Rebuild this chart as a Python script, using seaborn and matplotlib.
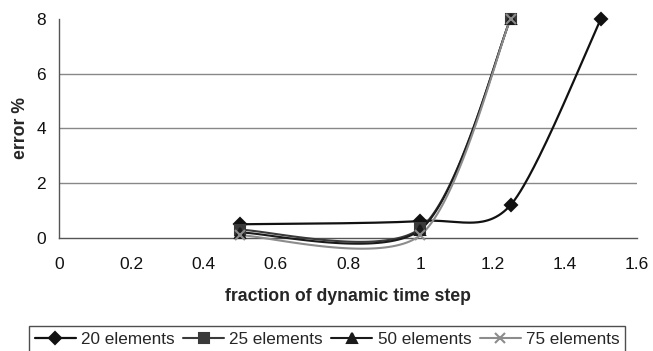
import numpy as np
import matplotlib
matplotlib.use("Agg")
import matplotlib.pyplot as plt
import seaborn as sns
import pandas as pd

# ---- data ----
x_20 = [0.5, 1.0, 1.25, 1.5]
y_20 = [0.5, 0.62, 1.2, 8.0]
x_25 = [0.5, 1.0, 1.25]
y_25 = [0.3, 0.35, 8.0]
x_50 = [0.5, 1.0, 1.25]
y_50 = [0.2, 0.3, 8.0]
x_75 = [0.5, 1.0, 1.25]
y_75 = [0.1, 0.1, 8.0]
series_names = ["20 elements", "25 elements", "50 elements", "75 elements"]
x_ticks = [0, 0.2, 0.4, 0.6, 0.8, 1.0, 1.2, 1.4, 1.6]
x_tick_labels = ["0", "0.2", "0.4", "0.6", "0.8", "1", "1.2", "1.4", "1.6"]
y_ticks = [0, 2, 4, 6, 8]

sns.set_theme(style="white")
plt.rcParams['font.family'] = ['Liberation Sans', 'DejaVu Sans']

TENSION = 0.14


def smooth(xs, ys, n=60):
    """Excel-like smoothed line (Bezier) used only for drawing the connector."""
    P = np.column_stack([xs, ys]).astype(float)
    out = [P[0]]
    m = len(P)
    for i in range(m - 1):
        p0 = P[i - 1] if i > 0 else P[i]
        p1 = P[i]
        p2 = P[i + 1]
        p3 = P[i + 2] if i + 2 < m else P[i + 1]
        c1 = p1 + (p2 - p0) * TENSION
        c2 = p2 - (p3 - p1) * TENSION
        t = np.linspace(0, 1, n)[1:, None]
        seg = ((1 - t) ** 3) * p1 + 3 * ((1 - t) ** 2) * t * c1 + 3 * (1 - t) * t ** 2 * c2 + t ** 3 * p2
        out.extend(seg)
    out = np.array(out)
    return out[:, 0], out[:, 1]


fig = plt.figure(figsize=(6.53, 3.51), dpi=100)
ax = fig.add_axes([0.0904, 0.322, 0.885, 0.624])

styles = [
    dict(color="#111111", marker="D", ms=6.5, lw=1.6),
    dict(color="#3a3a3a", marker="s", ms=6.5, lw=1.5),
    dict(color="#1a1a1a", marker="^", ms=7, lw=1.5),
    dict(color="#8c8c8c", marker="x", ms=7, lw=1.5),
]
data = [(x_20, y_20), (x_25, y_25), (x_50, y_50), (x_75, y_75)]

handles = []
for idx in range(4):
    xs, ys = data[idx]
    st = styles[idx]
    sx, sy = smooth(xs, ys)
    sns.lineplot(x=sx, y=sy, ax=ax, color=st["color"], lw=st["lw"], sort=False,
                 estimator=None, clip_on=False, zorder=2 + idx)
    pts = pd.DataFrame({"x": xs, "y": ys})
    ax.plot(pts["x"], pts["y"], ls="none", marker=st["marker"], ms=st["ms"],
            color=st["color"], mec=st["color"], mew=1.5, clip_on=False, zorder=6 + idx)
    handles.append(plt.Line2D([], [], color=st["color"], lw=st["lw"], marker=st["marker"],
                              ms=st["ms"], mec=st["color"], mew=1.5))

ax.set_xlim(0, 1.6)
ax.set_ylim(0, 8)
ax.set_xticks(x_ticks)
ax.set_xticklabels(x_tick_labels)
ax.set_yticks(y_ticks)
for yv in [2, 4, 6]:
    ax.axhline(yv, color="#888888", lw=1.0, zorder=0)

for s in ["top", "right"]:
    ax.spines[s].set_visible(False)
for s in ["left", "bottom"]:
    ax.spines[s].set_color("#555555")
    ax.spines[s].set_linewidth(1.0)
ax.tick_params(axis="both", which="both", direction="out", length=4.5, width=1,
               color="#555555", labelsize=12.5, colors="#111111")
ax.tick_params(axis="x", pad=9)
ax.tick_params(axis="y", pad=5)

ax.set_xlabel("fraction of dynamic time step", fontsize=12.7, fontweight="bold", labelpad=12)
ax.set_ylabel("error %", fontsize=12.7, fontweight="bold", labelpad=5)

leg = fig.legend(handles, series_names, loc="lower center",
                 bbox_to_anchor=(0.501, -0.03), ncol=4, frameon=True, fancybox=False,
                 edgecolor="#222222", fontsize=12.3, handlelength=2.4, handletextpad=0.3,
                 columnspacing=0.5, borderpad=0.35)
leg.get_frame().set_linewidth(1.0)

fig.savefig("out.png", dpi=100)
